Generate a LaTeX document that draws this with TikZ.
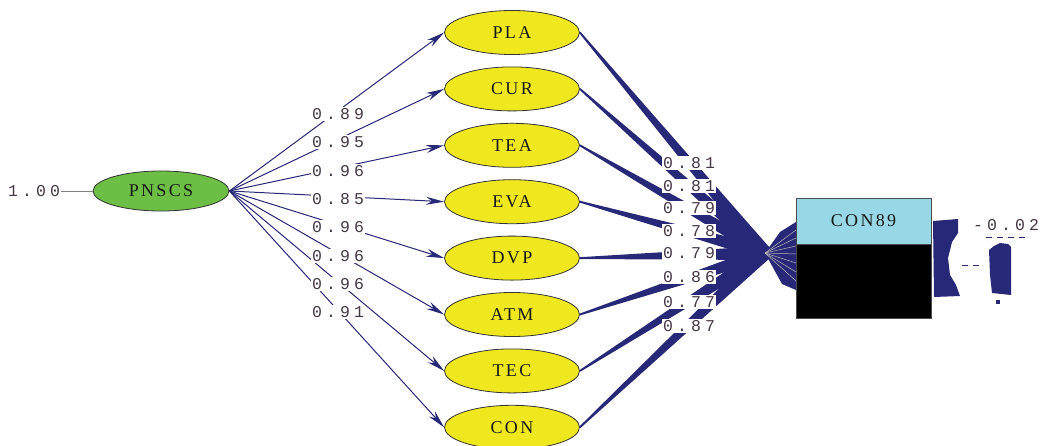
\documentclass[tikz,border=0pt]{standalone}
\usepackage{fontspec}
\newfontfamily\numfont[LetterSpace=25]{Liberation Mono}
\newfontfamily\lblfont[LetterSpace=13]{Liberation Serif}
\usetikzlibrary{calc,arrows.meta,shapes.geometric}
\definecolor{navy}{RGB}{40,40,120}
\definecolor{grn}{RGB}{108,190,69}
\definecolor{ylw}{RGB}{240,232,30}
\definecolor{lblue}{RGB}{152,216,230}
\definecolor{numc}{RGB}{70,55,70}
\newcommand\wedgeline[3]{%
  \fill[navy] ($(#1)!0.9pt!90:(#2)$) -- ($(#1)!0.9pt!-90:(#2)$) --
    ($(#2)!#3!90:(#1)$) -- ($(#2)!#3!-90:(#1)$) -- cycle;}
\begin{document}
\begin{tikzpicture}[x=1pt,y=-1pt,
  lblf/.style={font=\lblfont\fontsize{18}{18}\selectfont, text=black!90},
  lat/.style={ellipse, draw=black!80, line width=0.8pt, fill=ylw,
    minimum width=135pt, minimum height=44pt, inner sep=0pt, lblf},
  coef/.style={fill=white, inner sep=1pt,
    font=\numfont\fontsize{16.5}{16.5}\selectfont, text=numc},
  load/.style={draw=navy, line width=1pt, -{Stealth[length=18pt,width=8pt]}},
  boxpart/.style={rectangle, draw=black!70, line width=0.8pt, minimum width=135pt, inner sep=0pt}
]
\useasboundingbox (0,0) rectangle (1041,445);
\fill[white] (0,0) rectangle (1041,445);

% exogenous latent
\node[ellipse, draw=black!80, line width=0.8pt, fill=grn, minimum width=136pt,
  minimum height=40pt, inner sep=0pt, lblf] (pnscs) at (161,191) {PNSCS};
\node[coef] (one) at (34,191) {1.00};
\draw[gray, line width=0.6pt] (one) -- (pnscs);

% endogenous latents
\node[lat] (pla) at (512,32.5) {PLA};
\node[lat] (cur) at (512,88.9) {CUR};
\node[lat] (tea) at (512,145.3) {TEA};
\node[lat] (eva) at (512,201.7) {EVA};
\node[lat] (dvp) at (512,258.1) {DVP};
\node[lat] (atm) at (512,314.5) {ATM};
\node[lat] (tec) at (512,370.9) {TEC};
\node[lat] (con) at (512,427.3) {CON};

% loadings
\foreach \n in {pla,cur,tea,eva,dvp,atm,tec,con}
  \draw[load] (pnscs.east) -- (\n.west);
\node[coef] (l1) at (338,114) {0.89};
\node[coef] (l2) at (338,142) {0.95};
\node[coef] (l3) at (338,171) {0.96};
\node[coef] (l4) at (338,199) {0.85};
\node[coef] (l5) at (338,227) {0.96};
\node[coef] (l6) at (338,256) {0.96};
\node[coef] (l7) at (338,284) {0.96};
\node[coef] (l8) at (338,312) {0.91};

% convergence
\coordinate (conv) at (765,253);
\foreach \n in {pla,cur,tea,eva,dvp,atm,tec,con}
  {\wedgeline{\n.east}{conv}{7pt}}

% box
\node[boxpart, fill=lblue, minimum height=46pt, lblf] (con89) at (863.5,221) {CON89};
\node[boxpart, fill=black, minimum height=74pt] (blk) at (863.5,281) {};

% fan into box
\fill[navy] (conv) -- (780,232) -- (796,222) -- (796,290) -- (782,284) -- cycle;
\foreach \yy in {230,238,246,254,263,272,281}
  \draw[gray!55, line width=0.5pt] (conv) -- (796,\yy);

\node[coef] (r1) at (689,163) {0.81};
\node[coef] (r2) at (689,186) {0.81};
\node[coef] (r3) at (689,208) {0.79};
\node[coef] (r4) at (689,231) {0.78};
\node[coef] (r5) at (689,253) {0.79};
\node[coef] (r6) at (689,277) {0.86};
\node[coef] (r7) at (689,302) {0.77};
\node[coef] (r8) at (689,326) {0.87};

% right-hand residual artefacts
\fill[navy] (933,221) -- (958,219) -- (958,233) -- (952,242) -- (948,258)
  -- (950,275) -- (956,285) -- (960,296) -- (934,297) -- cycle;
\fill[navy] (989,250) -- (994,246) -- (1000,243) -- (1008,244) -- (1011,247)
  -- (1011,295) -- (992,293) -- (990,275) -- cycle;
\fill[navy] (996,300) rectangle (1000,304);
\node[coef, fill=none] (err) at (1006,225) {-0.02};
\foreach \xx in {986,997,1008,1019}
  \draw[navy, line width=1pt] (\xx,237) -- (\xx+6,237);
\foreach \xx in {962,973}
  \draw[navy, line width=1pt] (\xx,265) -- (\xx+6,265);
\end{tikzpicture}
\end{document}
